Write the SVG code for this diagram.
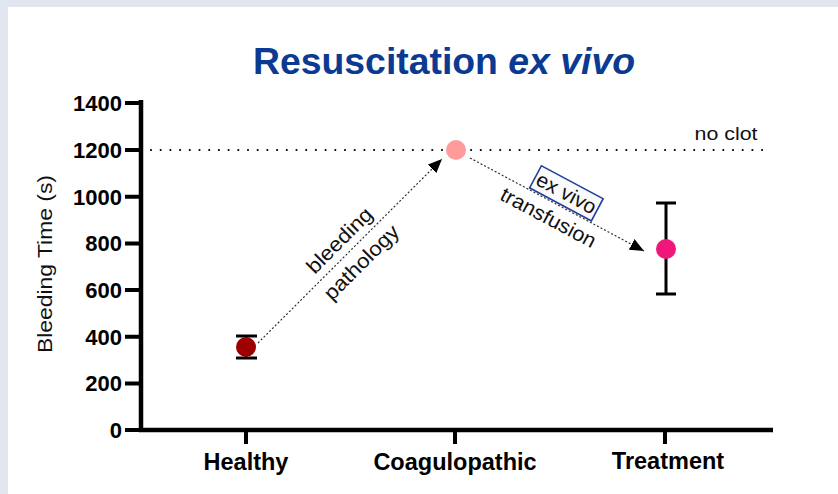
<svg xmlns="http://www.w3.org/2000/svg" width="838" height="494" viewBox="0 0 838 494">
<defs>
<style>
.ax{stroke:#000;stroke-width:4.5;fill:none}
.tk{stroke:#000;stroke-width:4;fill:none}
.yl{font-family:"Liberation Sans",Arial,sans-serif;font-weight:bold;font-size:22px;text-anchor:end;fill:#000}
.xl{font-family:"Liberation Sans",Arial,sans-serif;font-weight:bold;font-size:23.5px;text-anchor:middle;fill:#000}
.lb{font-family:"Liberation Sans",Arial,sans-serif;font-size:20.5px;text-anchor:middle;fill:#111}
.conn{stroke:#333;stroke-width:1.2;stroke-dasharray:2 2;fill:none}
.eb{stroke:#000;stroke-width:3;fill:none}
</style>
<marker id="ah" markerUnits="userSpaceOnUse" viewBox="0 0 14 12" markerWidth="14" markerHeight="12" refX="14" refY="6" orient="auto">
<path d="M0,0 L14,6 L0,12 z" fill="#000"/>
</marker>
</defs>
<rect x="0" y="0" width="838" height="494" fill="#e2e6f0"/>
<rect x="8" y="7" width="830" height="487" fill="#ffffff"/>
<text x="444" y="74" text-anchor="middle" font-family="'Liberation Sans',Arial,sans-serif" font-weight="bold" font-size="37.5" textLength="382" lengthAdjust="spacingAndGlyphs" fill="#0b3a93">Resuscitation <tspan font-style="italic">ex vivo</tspan></text>
<g id="y-axis">
<line class="ax" x1="141" y1="100" x2="141" y2="432"/>
<path class="tk" d="M125,103H141M125,150H141M125,196.7H141M125,243.4H141M125,290.1H141M125,336.8H141M125,383.4H141M125,430H141"/>
<text class="yl" x="122" y="111">1400</text>
<text class="yl" x="122" y="158">1200</text>
<text class="yl" x="122" y="204.5">1000</text>
<text class="yl" x="122" y="251">800</text>
<text class="yl" x="122" y="298">600</text>
<text class="yl" x="122" y="344.5">400</text>
<text class="yl" x="122" y="391">200</text>
<text class="yl" x="122" y="438">0</text>
<text x="0" y="0" transform="translate(52,264) rotate(-90)" text-anchor="middle" font-family="'Liberation Sans',Arial,sans-serif" font-size="20" textLength="178" lengthAdjust="spacingAndGlyphs" fill="#111">Bleeding Time (s)</text>
</g>
<g id="x-axis">
<line class="ax" x1="139" y1="430" x2="773" y2="430"/>
<path class="tk" d="M246,430V444M455,430V444M665,430V444"/>
<text class="xl" x="246" y="470">Healthy</text>
<text class="xl" x="455" y="470">Coagulopathic</text>
<text class="xl" x="668" y="469">Treatment</text>
</g>
<g id="no-clot">
<line x1="151" y1="150" x2="765" y2="150" stroke="#000" stroke-width="2.2" stroke-linecap="round" stroke-dasharray="0 9.7"/>
<text x="726" y="140" text-anchor="middle" font-family="'Liberation Sans',Arial,sans-serif" font-size="18.5" textLength="63" lengthAdjust="spacingAndGlyphs" fill="#111">no clot</text>
</g>
<g id="connectors">
<line class="conn" x1="258" y1="343" x2="442" y2="159" marker-end="url(#ah)"/>
<line class="conn" x1="470" y1="158" x2="644" y2="251" marker-end="url(#ah)"/>
</g>
<g id="label-bleeding" transform="translate(350,251) rotate(-45)">
<text class="lb" x="0" y="-8" textLength="84" lengthAdjust="spacingAndGlyphs">bleeding</text>
<text class="lb" x="0" y="23" textLength="97" lengthAdjust="spacingAndGlyphs">pathology</text>
</g>
<g id="label-transfusion" transform="translate(557,204.5) rotate(28.1)">
<rect x="-32" y="-26.8" width="70" height="25" fill="#fafafa" stroke="#1f3f99" stroke-width="1.6"/>
<text class="lb" x="3" y="-7.5" textLength="65" lengthAdjust="spacingAndGlyphs" fill="#444">ex vivo</text>
<text class="lb" x="-1.4" y="22.5" textLength="105" lengthAdjust="spacingAndGlyphs">transfusion</text>
</g>
<g id="healthy">
<path class="eb" d="M236,336H257M236,358H257M246,336V358"/>
<circle cx="246" cy="347" r="10" fill="#9e0000"/>
</g>
<g id="coagulopathic">
<circle cx="456" cy="150" r="10" fill="#ff9b9b"/>
</g>
<g id="treatment">
<path class="eb" d="M656,203H676M656,294H676M666,203V294" stroke-width="2.6"/>
<circle cx="666" cy="249" r="10" fill="#f0167a"/>
</g>
</svg>
